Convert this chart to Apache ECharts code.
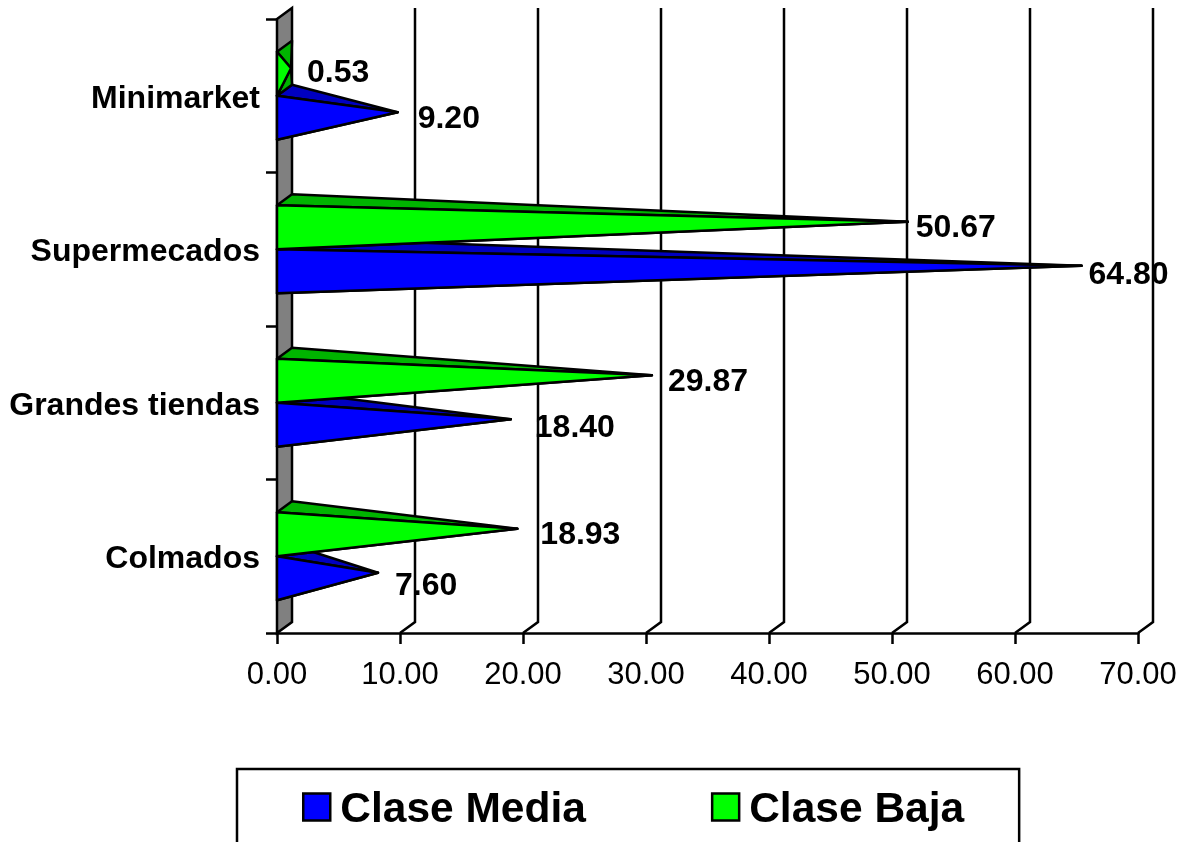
<!DOCTYPE html>
<html>
<head>
<meta charset="utf-8">
<title>Clase Media y Clase Baja por canal</title>
<script src="https://cdn.jsdelivr.net/npm/echarts@6/dist/echarts.min.js"></script>
<style>
  html, body { margin: 0; padding: 0; background: #fff; overflow: hidden; }
  #chart { width: 1185px; height: 842px; }
</style>
</head>
<body>
<div id="chart"></div>
<script>
// Chart data
const categories = ['Colmados', 'Grandes tiendas', 'Supermecados', 'Minimarket'];
const claseMedia = [7.60, 18.40, 64.80, 9.20];
const claseBaja = [18.93, 29.87, 50.67, 0.53];
const axisTicks = [0, 10, 20, 30, 40, 50, 60, 70];

// Value-label nudges from each pyramid tip, in pixels
const mediaLabelNudge = [[17, 13], [24, 9], [7, 9], [20, 7]];
const bajaLabelNudge = [[23, 6], [16, 7], [8, 6], [16, 5]];

// Oblique projection used for the 3D look
const DEPTH_X = 15;
const DEPTH_Y = -11;
const LINE = 2.5;
const FONT = '"Liberation Sans", Arial, sans-serif';
const BAR_SHARE = 0.2865;

// Back wall and floor-to-wall gridlines
function renderWall(params, api) {
  const sys = params.coordSys;
  const x = api.coord([api.value(0), 0])[0];
  const bottom = sys.y + sys.height;
  const top = sys.y;
  const children = [];
  if (api.value(0) === 0) {
    children.push({
      type: 'polygon',
      shape: { points: [[x, top], [x + DEPTH_X, top + DEPTH_Y], [x + DEPTH_X, bottom + DEPTH_Y], [x, bottom]] },
      style: { fill: '#808080', stroke: '#000', lineWidth: LINE }
    });
  } else {
    children.push({
      type: 'polyline',
      shape: { points: [[x, bottom], [x + DEPTH_X, bottom + DEPTH_Y], [x + DEPTH_X, top + DEPTH_Y]] },
      style: { fill: null, stroke: '#000', lineWidth: LINE }
    });
  }
  return { type: 'group', children };
}

// One horizontal pyramid: base on the wall, tip at the value
function pyramidRenderer(side, frontColor, shadeColor, nudges) {
  return function (params, api) {
    const value = api.value(0);
    const idx = api.value(1);
    const band = api.size([0, 1])[1];
    const center = api.coord([0, idx]);
    const end = api.coord([value, idx]);
    const h = band * BAR_SHARE;
    const x0 = center[0];
    const top = side < 0 ? center[1] - h : center[1];
    const bottom = top + h;
    const f1 = [x0, top];
    const f2 = [x0, bottom];
    const b1 = [x0 + DEPTH_X, top + DEPTH_Y];
    const b2 = [x0 + DEPTH_X, bottom + DEPTH_Y];
    const tip = [end[0] + DEPTH_X / 2, (top + bottom + DEPTH_Y) / 2];
    const nudge = nudges[idx];
    const edge = { stroke: '#000', lineWidth: LINE, lineJoin: 'round' };
    return {
      type: 'group',
      children: [
        { type: 'polygon', shape: { points: [f2, b2, tip] }, style: Object.assign({ fill: shadeColor }, edge) },
        { type: 'polygon', shape: { points: [f1, b1, tip] }, style: Object.assign({ fill: shadeColor }, edge) },
        { type: 'polygon', shape: { points: [f1, f2, tip] }, style: Object.assign({ fill: frontColor }, edge) },
        {
          type: 'text',
          z2: 100,
          x: tip[0] + nudge[0],
          y: tip[1] + nudge[1],
          style: {
            text: value.toFixed(2),
            fill: '#000',
            font: 'bold 32px ' + FONT,
            align: 'left',
            verticalAlign: 'middle'
          }
        }
      ]
    };
  };
}

const chart = echarts.init(document.getElementById('chart'));
chart.setOption({
  animation: false,
  backgroundColor: '#fff',
  grid: { left: 277, right: 47, top: 19, height: 614, containLabel: false },
  xAxis: {
    type: 'value',
    min: 0,
    max: 70,
    interval: 10,
    splitLine: { show: false },
    axisLine: { show: true, lineStyle: { color: '#000', width: LINE } },
    axisTick: { show: true, length: 11, lineStyle: { color: '#000', width: LINE } },
    axisLabel: {
      margin: 27,
      color: '#000',
      fontFamily: FONT,
      fontSize: 31,
      formatter: (v) => v.toFixed(2),
      showMinLabel: true,
      showMaxLabel: true,
      hideOverlap: false
    }
  },
  yAxis: {
    type: 'category',
    data: categories,
    axisLine: { show: true, lineStyle: { color: '#000', width: LINE } },
    axisTick: { show: true, length: 11, alignWithLabel: false, lineStyle: { color: '#000', width: LINE } },
    axisLabel: {
      margin: 17,
      color: '#000',
      fontFamily: FONT,
      fontWeight: 'bold',
      fontSize: 32,
      verticalAlign: 'top',
      lineHeight: 6,
      interval: 0
    }
  },
  legend: {
    left: 237,
    top: 769,
    orient: 'horizontal',
    data: ['Clase Media', 'Clase Baja'],
    icon: 'rect',
    itemWidth: 27,
    itemHeight: 27,
    itemGap: 125,
    padding: [20, 55, 60, 65],
    borderColor: '#000',
    borderWidth: 2.5,
    itemStyle: { borderColor: '#000', borderWidth: 2.5 },
    formatter: '{t|{name}}',
    textStyle: {
      rich: {
        t: {
          color: '#000',
          fontFamily: FONT,
          fontWeight: 'bold',
          fontSize: 42.5,
          padding: [7, 0, 0, 5]
        }
      }
    }
  },
  series: [
    {
      name: 'wall',
      type: 'custom',
      coordinateSystem: 'cartesian2d',
      silent: true,
      clip: false,
      z: 1,
      encode: { x: 0 },
      data: axisTicks.map((v) => [v]),
      renderItem: renderWall
    },
    {
      name: 'Clase Media',
      type: 'custom',
      coordinateSystem: 'cartesian2d',
      clip: false,
      z: 3,
      itemStyle: { color: '#0000ff' },
      encode: { x: 0, y: 1 },
      data: claseMedia.map((v, i) => [v, i]),
      renderItem: pyramidRenderer(1, '#0000ff', '#0000c0', mediaLabelNudge)
    },
    {
      name: 'Clase Baja',
      type: 'custom',
      coordinateSystem: 'cartesian2d',
      clip: false,
      z: 4,
      itemStyle: { color: '#00ff00' },
      encode: { x: 0, y: 1 },
      data: claseBaja.map((v, i) => [v, i]),
      renderItem: pyramidRenderer(-1, '#00ff00', '#00b400', bajaLabelNudge)
    }
  ]
});
</script>
</body>
</html>
